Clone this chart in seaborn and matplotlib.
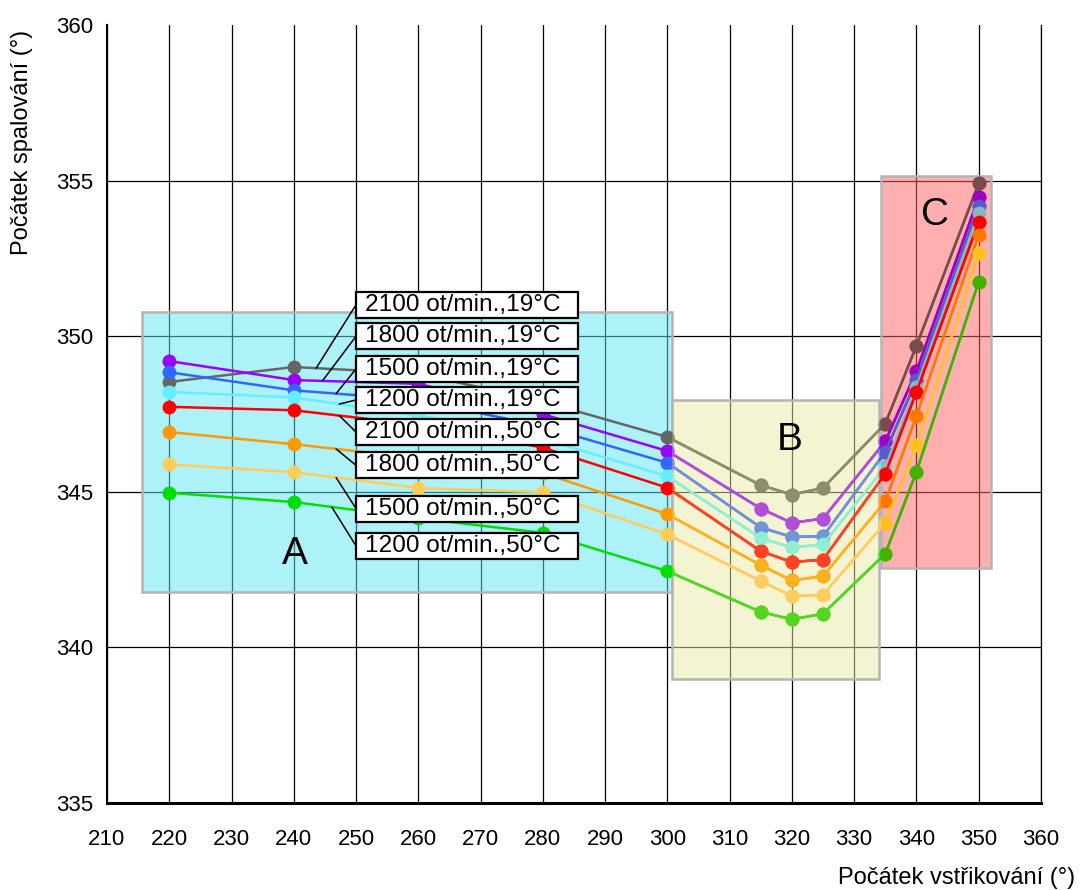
import numpy as np
import pandas as pd
import matplotlib
matplotlib.use("Agg")
import matplotlib.pyplot as plt
from matplotlib.patches import Rectangle
import seaborn as sns

# data
x_vals = [220, 240, 260, 280, 300, 315, 320, 325, 335, 340, 350]

labels = [
    "2100 ot/min.,19°C",
    "1800 ot/min.,19°C",
    "1500 ot/min.,19°C",
    "1200 ot/min.,19°C",
    "2100 ot/min.,50°C",
    "1800 ot/min.,50°C",
    "1500 ot/min.,50°C",
    "1200 ot/min.,50°C",
]

s_2100_19 = [348.53, 349.01, 348.80, 347.90, 346.76, 345.21, 344.91, 345.12, 347.19, 349.69, 354.91]
s_1800_19 = [349.20, 348.59, 348.47, 347.49, 346.31, 344.46, 344.00, 344.14, 346.62, 348.87, 354.46]
s_1500_19 = [348.84, 348.26, 347.95, 347.10, 345.93, 343.85, 343.55, 343.57, 346.28, 348.59, 354.18]
s_1200_19 = [348.21, 348.03, 347.45, 346.70, 345.50, 343.51, 343.21, 343.31, 345.80, 348.37, 353.96]
s_2100_50 = [347.73, 347.62, 347.15, 346.42, 345.13, 343.09, 342.74, 342.82, 345.58, 348.21, 353.67]
s_1800_50 = [346.92, 346.53, 346.08, 345.60, 344.28, 342.64, 342.15, 342.29, 344.69, 347.44, 353.25]
s_1500_50 = [345.88, 345.63, 345.12, 344.99, 343.63, 342.13, 341.65, 341.69, 344.00, 346.50, 352.66]
s_1200_50 = [344.97, 344.67, 344.15, 343.68, 342.45, 341.14, 340.90, 341.08, 343.01, 345.64, 351.75]

series = [s_2100_19, s_1800_19, s_1500_19, s_1200_19,
          s_2100_50, s_1800_50, s_1500_50, s_1200_50]

# line colours in zone A, B and C
colors_a = ["#666666", "#9900ff", "#3366ff", "#66eeff", "#ff0000", "#ff9900", "#ffcc55", "#00dd00"]
colors_b = ["#8e8e6e", "#b050d8", "#7094d4", "#90eed2", "#ff4422", "#ffb020", "#ffcc60", "#55d522"]
colors_c = ["#7b4a4a", "#a000c0", "#5a5acb", "#8ab8c0", "#ff0000", "#ff7700", "#ffc020", "#44b000"]

# where the leader lines touch the curves, and label box centres
leader_x = [243.6, 244.6, 246.8, 247.3, 247.3, 246.8, 246.8, 246.1]
box_y = [351.01, 350.0, 348.95, 347.95, 346.92, 345.85, 344.46, 343.26]

df = pd.DataFrame({
    "x": x_vals * len(labels),
    "y": sum(series, []),
    "serie": np.repeat(labels, len(x_vals)),
})

sns.set_style("white")
plt.rcParams["font.family"] = ["Liberation Sans", "DejaVu Sans"]
plt.rcParams["text.color"] = "black"
plt.rcParams["xtick.color"] = "black"
plt.rcParams["ytick.color"] = "black"
plt.rcParams["axes.labelcolor"] = "black"

fig = plt.figure(figsize=(10.85, 8.9), dpi=100)
ax = fig.add_axes([0.0986, 0.0978, 0.8608, 0.8741])

ax.set_xlim(210, 360)
ax.set_ylim(335, 360)
ax.set_xticks(range(210, 361, 10))
ax.set_yticks(range(335, 361, 5))
ax.set_axisbelow(True)
ax.grid(True, color="black", lw=0.9)
ax.yaxis.get_gridlines()[-1].set_visible(False)
ax.tick_params(length=0, labelsize=16, colors="black")
ax.tick_params(axis="x", pad=19)
ax.tick_params(axis="y", pad=10)
for side in ["left", "bottom", "right"]:
    ax.spines[side].set_visible(True)
    ax.spines[side].set_color("black")
ax.spines["top"].set_visible(False)
ax.spines["left"].set_linewidth(1.5)
ax.spines["bottom"].set_linewidth(2.2)
ax.spines["right"].set_linewidth(0.9)

# zones
rect_a = Rectangle((215.6, 341.77), 85.1, 9.0, facecolor=(0.36, 0.90, 0.96, 0.5),
                   edgecolor="#b4b4b4", lw=1.8, zorder=2)
rect_b = Rectangle((300.7, 338.97), 33.3, 8.97, facecolor=(0.92, 0.92, 0.65, 0.5),
                   edgecolor="#b4b4b4", lw=1.8, zorder=2)
rect_c = Rectangle((334.3, 342.54), 17.7, 12.6, facecolor=(1.0, 0.38, 0.38, 0.5),
                   edgecolor="#b4b4b4", lw=1.8, zorder=2)
for r in [rect_a, rect_b, rect_c]:
    ax.add_patch(r)

# curves, drawn once per zone colour set
for z, palette, clip in [(3, colors_a, None), (4, colors_b, rect_b), (5, colors_c, rect_c)]:
    n0 = len(ax.lines)
    sns.lineplot(data=df, x="x", y="y", hue="serie", hue_order=labels,
                 palette=palette, marker="o", markersize=10, markeredgewidth=0,
                 linewidth=1.8, legend=False, errorbar=None, ax=ax)
    for ln in ax.lines[n0:]:
        ln.set_zorder(z)
        if clip is not None:
            ln.set_clip_path(clip)

# zone letters
ax.text(240.1, 343.0, "A", fontsize=28, ha="center", va="center", color="black", zorder=8)
ax.text(319.6, 346.66, "B", fontsize=28, ha="center", va="center", color="black", zorder=8)
ax.text(343.0, 353.9, "C", fontsize=28, ha="center", va="center", color="black", zorder=8)

# label boxes with leader lines
for lab, s, lx, by in zip(labels, series, leader_x, box_y):
    ly = np.interp(lx, x_vals, s)
    ax.add_patch(Rectangle((250.0, by - 0.418), 35.7, 0.836, facecolor="white",
                           edgecolor="black", lw=1.6, zorder=9))
    ax.text(251.5, by, lab, fontsize=17.6, ha="left", va="center", color="black", zorder=10)
    ax.annotate("", xy=(lx, ly), xytext=(250.0, by),
                arrowprops=dict(arrowstyle="-", color="black", lw=1.1,
                                shrinkA=0, shrinkB=0), zorder=9)

ax.set_xlabel("")
ax.set_ylabel("")
fig.text(0.9908, 0.0135, "Počátek vstřikování (°)", fontsize=17, ha="right", va="center",
         color="black")
fig.text(0.0203, 0.9663, "Počátek spalování (°)", fontsize=17, rotation=90,
         ha="center", va="top", color="black")

plt.savefig("out.png", dpi=100)
